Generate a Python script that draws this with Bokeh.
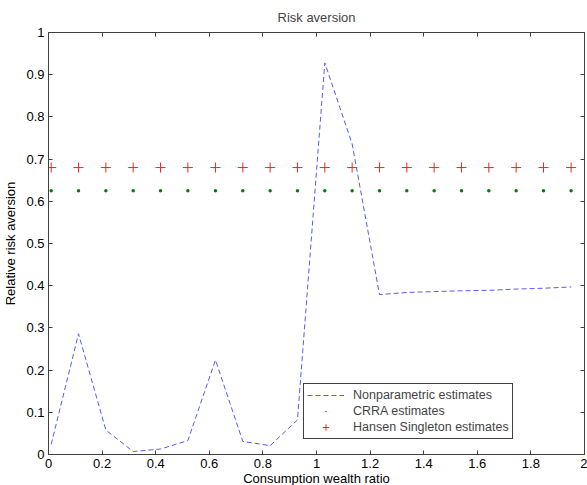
from bokeh.plotting import figure
from bokeh.models import FixedTicker, LinearAxis, Legend, LegendItem, Range1d, CustomJSTickFormatter
from bokeh.embed import file_html
from bokeh.resources import INLINE

# Data
x_vals = [0.010, 0.112, 0.214, 0.316, 0.418, 0.520, 0.623, 0.725, 0.827, 0.929,
          1.031, 1.133, 1.235, 1.337, 1.439, 1.541, 1.643, 1.745, 1.847, 1.950]
nonparam = [0.024, 0.286, 0.058, 0.007, 0.013, 0.033, 0.224, 0.031, 0.021, 0.082,
            0.928, 0.736, 0.379, 0.384, 0.386, 0.388, 0.389, 0.392, 0.394, 0.397]
crra = [0.625] * 20
hansen = [0.680] * 20

x_ticks = [0, 0.2, 0.4, 0.6, 0.8, 1.0, 1.2, 1.4, 1.6, 1.8, 2.0]
x_tick_labels = ["0", "0.2", "0.4", "0.6", "0.8", "1", "1.2", "1.4", "1.6", "1.8", "2"]
y_ticks = [0, 0.1, 0.2, 0.3, 0.4, 0.5, 0.6, 0.7, 0.8, 0.9, 1.0]
y_tick_labels = ["0", "0.1", "0.2", "0.3", "0.4", "0.5", "0.6", "0.7", "0.8", "0.9", "1"]

FONT = "Liberation Sans"
AX = "#404040"
FS = "13px"

p = figure(frame_width=536, frame_height=422, output_backend="svg", toolbar_location=None,
           x_range=Range1d(0, 2), y_range=Range1d(0, 1),
           min_border_left=40, min_border_right=3, min_border_top=24, min_border_bottom=31,
           title="Risk aversion")
p.title.align = "center"
p.title.text_font = FONT
p.title.text_font_size = FS
p.title.text_font_style = "normal"
p.title.offset = 0
p.title.standoff = 15

p.xgrid.visible = False
p.ygrid.visible = False
p.outline_line_color = AX
p.outline_line_alpha = 1.0
p.background_fill_color = "white"
p.border_fill_color = "white"

xt = dict(zip(x_ticks, x_tick_labels))
yt = dict(zip(y_ticks, y_tick_labels))

def style(ax):
    ax.major_tick_in = 4
    ax.major_tick_out = 0
    ax.minor_tick_in = 0
    ax.minor_tick_out = 0
    ax.axis_line_color = AX
    ax.major_tick_line_color = AX
    ax.major_label_text_font = FONT
    ax.major_label_text_font_size = FS
    ax.major_label_text_color = "black"
    ax.axis_label_text_font = FONT
    ax.axis_label_text_font_size = FS
    ax.axis_label_text_font_style = "normal"
    ax.axis_label_text_color = "black"

p.xaxis.ticker = FixedTicker(ticks=x_ticks)
p.yaxis.ticker = FixedTicker(ticks=y_ticks)
p.xaxis.major_label_overrides = xt
p.yaxis.major_label_overrides = yt
style(p.xaxis[0])
style(p.yaxis[0])
p.xaxis.axis_label = "Consumption wealth ratio"
p.yaxis.axis_label = "Relative risk aversion"
p.xaxis.major_label_standoff = 4
p.xaxis.axis_label_standoff = 0
p.yaxis.major_label_standoff = 4
p.yaxis.axis_label_standoff = 5

blank = CustomJSTickFormatter(code="return '';")
top = LinearAxis(ticker=FixedTicker(ticks=x_ticks), formatter=blank)
style(top)
top.major_label_standoff = 0
p.add_layout(top, "above")
right = LinearAxis(ticker=FixedTicker(ticks=y_ticks), formatter=blank)
style(right)
right.major_label_standoff = 0
p.add_layout(right, "right")

r1 = p.line(x_vals, nonparam, line_color="#5858ff", line_width=1, line_dash="5 3")
r2 = p.scatter(x_vals, crra, marker="dot", size=14, fill_color="#008000", line_color="#008000")
r3 = p.scatter(x_vals, hansen, marker="cross", size=10, line_color="#ff2020", line_width=1)

legend = Legend(items=[
    LegendItem(label="Nonparametric estimates", renderers=[r1]),
    LegendItem(label="CRRA estimates", renderers=[r2]),
    LegendItem(label="Hansen Singleton estimates", renderers=[r3]),
], location=(255, 15))
legend.padding = 3
legend.margin = 0
legend.spacing = 0
legend.glyph_width = 37
legend.glyph_height = 16
legend.label_height = 16
legend.label_standoff = 9
legend.label_text_font = FONT
legend.label_text_font_size = "12.5px"
legend.border_line_color = AX
legend.border_line_alpha = 1.0
legend.background_fill_color = "white"
legend.background_fill_alpha = 1.0
p.add_layout(legend, "center")

open("out.html", "w").write(file_html(p, INLINE))
